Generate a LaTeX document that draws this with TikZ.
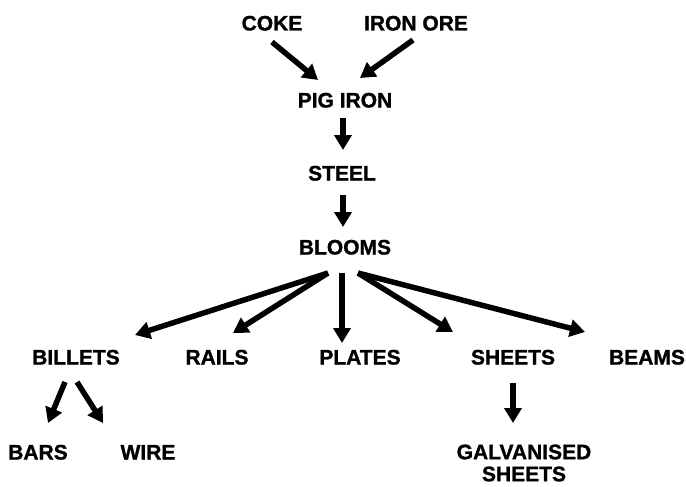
\documentclass[tikz,border=0pt]{standalone}
\usepackage{fontspec}
\setmainfont{Liberation Sans}[BoldFeatures={FakeBold=1.2}]
\usetikzlibrary{arrows.meta,calc}
\tikzset{
  lbl/.style={font=\fontsize{21}{22}\selectfont\bfseries, inner sep=0pt, text height=15pt, text depth=0pt, align=center},
  arr/.style={line width=5.5pt, -{Triangle[length=15pt,width=17pt]}}
}
\begin{document}
\begin{tikzpicture}[x=1pt,y=-1pt]
\useasboundingbox[fill=white] (0,0) rectangle (686,487);
\node[lbl] (coke) at (272,23) {COKE};
\node[lbl] (ore) at (416,23) {IRON ORE};
\node[lbl] (pig) at (345,100) {PIG IRON};
\node[lbl] (steel) at (342,173) {STEEL};
\node[lbl] (blooms) at (345,247) {BLOOMS};
\node[lbl] (billets) at (76,357) {BILLETS};
\node[lbl] (rails) at (217,357) {RAILS};
\node[lbl] (plates) at (360,357) {PLATES};
\node[lbl] (sheets) at (513,357) {SHEETS};
\node[lbl] (beams) at (647,357) {BEAMS};
\node[lbl] (bars) at (38,452) {BARS};
\node[lbl] (wire) at (148,452) {WIRE};
\node[lbl, text height=, text depth=] (galv) at (524,463) {GALVANISED\\SHEETS};

\draw[arr] ($(coke.center)+(0,19)$) -- ($(pig.center)+(-27,-20)$);
\draw[arr] ($(ore.center)+(-3,17)$) -- ($(pig.center)+(15,-22)$);
\draw[arr] ($(pig.center)+(-2,18)$) -- ($(steel.center)+(1,-23)$);
\draw[arr] ($(steel.center)+(1,22)$) -- ($(blooms.center)+(-2,-20)$);
\draw[arr] ($(blooms.center)+(-17,26)$) -- ($(billets.center)+(59,-22)$);
\draw[arr] ($(blooms.center)+(-17,26)$) -- ($(rails.center)+(16,-24)$);
\draw[arr] ($(blooms.center)+(-3,26)$) -- ($(plates.center)+(-18,-14)$);
\draw[arr] ($(blooms.center)+(13,26)$) -- ($(sheets.center)+(-60,-25)$);
\draw[arr] ($(blooms.center)+(13,26)$) -- ($(beams.center)+(-62,-25)$);
\draw[arr] ($(billets.center)+(-11,25)$) -- ($(bars.center)+(10,-29)$);
\draw[arr] ($(billets.center)+(1,25)$) -- ($(wire.center)+(-45,-29)$);
\draw[arr] ($(sheets.center)+(0,26)$) -- ($(galv.center)+(-11,-40)$);
\end{tikzpicture}
\end{document}
